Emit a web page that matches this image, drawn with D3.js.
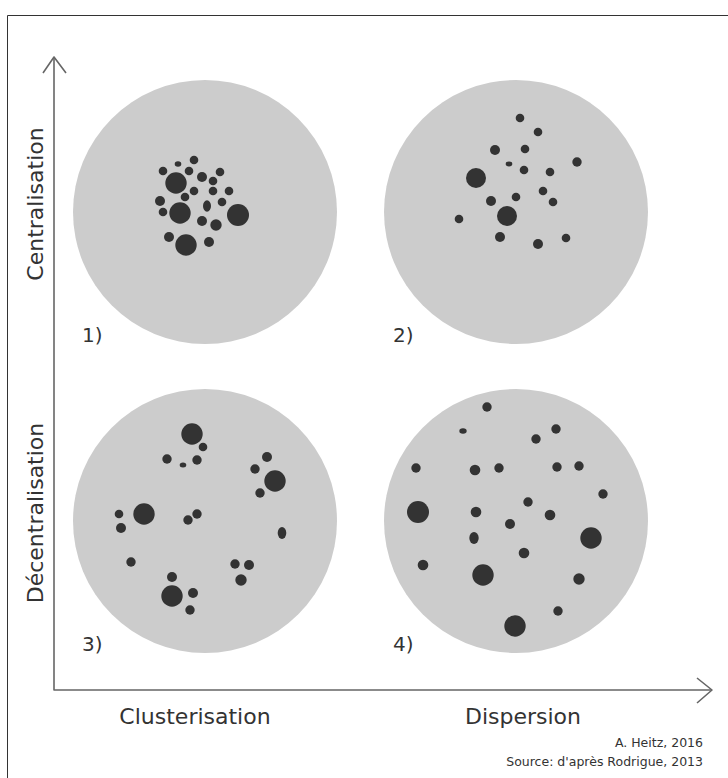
<!DOCTYPE html>
<html>
<head>
<meta charset="utf-8">
<script src="https://cdn.jsdelivr.net/npm/d3@7"></script>
<style>
  body { margin: 0; background: #fff; }
  text { font-family: "DejaVu Sans", sans-serif; fill: #333; }
</style>
</head>
<body>
<svg id="chart" width="728" height="778"></svg>
<script>
// panels: label, column, row
const panels = ["1)", "2)", "3)", "4)"];
const xLabels = ["Clusterisation", "Dispersion"];
const yLabels = ["Centralisation", "Décentralisation"];
const credits = ["A. Heitz, 2016", "Source: d'après Rodrigue, 2013"];

// dots per panel: [dx, dy, rx, ry] relative to the disk centre (disk radius = 132)
const dots1 = [
  [-11,-52,4.3,4.3], [-27,-48,3.3,2.7], [-42,-41,4.3,4.3], [-16,-41,4.3,4.3],
  [15,-40,4.3,4.3], [-29,-29,10.7,10.7], [-3,-35,5,5], [8,-31,4.3,4.3],
  [-11,-21,4.3,4.3], [8,-21,4.3,4.3], [24,-21,4.3,4.3], [-20,-15,4.3,4.3],
  [-45,-11,5,5], [17,-10,4.3,4.3], [2,-6,4,5.7], [-42,0,4.3,4.3],
  [-25,1,10.7,10.7], [33,3,11,11], [-3,9,5,5], [11,13,5.7,5.7],
  [-36,25,5,5], [-19,33,10.7,10.7], [4,30,5,5]
];
const dots2 = [
  [4,-94,4.3,4.3], [22,-80,4.3,4.3], [-21,-62,5,5], [9,-63,4.3,4.3],
  [-7,-48,3.3,2.4], [61,-50,4.7,4.7], [-40,-34,10,10], [8,-42,4.3,4.3],
  [34,-40,4.3,4.3], [27,-21,4.3,4.3], [-25,-11,5,5], [0,-15,4.3,4.3],
  [37,-10,4.3,4.3], [-9,4,10,10], [-57,7,4.3,4.3], [-16,25,5,5],
  [22,32,5,5], [50,26,4.3,4.3]
];
const dots3 = [
  [-13,-87,10.7,10.7], [-2,-74,4.3,4.3], [-38,-62,4.7,4.7], [-22,-56,3.3,2.5],
  [-8,-61,4.7,4.7], [62,-64,5,5], [50,-52,4.7,4.7], [70,-40,10.7,10.7],
  [55,-28,4.7,4.7], [-86,-7,4.3,4.3], [-61,-7,10.7,10.7], [-84,7,5,5],
  [-8,-7,4.7,4.7], [-17,-1,4.7,4.7], [77,12,4.3,6], [-74,41,4.7,4.7],
  [30,43,4.7,4.7], [44,44,5,5], [36,59,5.7,5.7], [-33,56,5,5],
  [-33,75,10.7,10.7], [-12,72,5,5], [-15,89,4.7,4.7]
];
const dots4 = [
  [-29,-114,4.7,4.7], [-53,-90,3.7,2.7], [40,-92,4.7,4.7], [20,-82,4.7,4.7],
  [-100,-53,4.7,4.7], [-41,-51,5.3,5.3], [-17,-53,4.7,4.7], [41,-54,4.7,4.7],
  [63,-55,4.7,4.7], [87,-27,4.7,4.7], [-98,-9,11,11], [-40,-9,5.3,5.3],
  [12,-19,4.7,4.7], [34,-6,5.3,5.3], [-6,3,5,5], [-42,17,4.7,6],
  [75,17,10.7,10.7], [8,32,5.3,5.3], [-93,44,5.3,5.3], [-33,54,10.7,10.7],
  [63,58,5.7,5.7], [42,90,4.7,4.7], [-1,105,10.7,10.7]
];
const allDots = [dots1, dots2, dots3, dots4];

const svg = d3.select("#chart");
const width = +svg.attr("width");
const height = +svg.attr("height");

const R = 132;
// columns / rows of the 2x2 grid
const colScale = d3.scalePoint().domain([0, 1]).range([205, 516]);
const rowScale = d3.scalePoint().domain([0, 1]).range([212, 521]);
const rScale = d3.scaleLinear().domain([0, R]).range([0, R]);

// frame (cut at right and bottom like the source)
svg.append("path")
  .attr("d", `M${width + 5},15.5 H7.5 V${height + 5}`)
  .attr("fill", "none")
  .attr("stroke", "#333")
  .attr("stroke-width", 1);

// axes with open arrowheads
const axisX = 54, axisY = 690;
const axes = svg.append("g")
  .attr("fill", "none")
  .attr("stroke", "#666")
  .attr("stroke-width", 1.6)
  .attr("stroke-linejoin", "round");
axes.append("path").attr("d", `M${axisX},57 V${axisY} H712`);
axes.append("path").attr("d", `M${axisX - 11},73 L${axisX},57 L${axisX + 12},73`);
axes.append("path").attr("d", `M697,${axisY - 12} L712,${axisY} L697,${axisY + 13}`);

panels.forEach((label, i) => {
  const col = i % 2, row = Math.floor(i / 2);
  const cx = colScale(col), cy = rowScale(row);
  const x = d3.scaleLinear().domain([-R, R]).range([cx - R, cx + R]);
  const y = d3.scaleLinear().domain([-R, R]).range([cy - R, cy + R]);

  const g = svg.append("g").attr("class", "panel");
  g.append("circle")
    .attr("cx", x(0))
    .attr("cy", y(0))
    .attr("r", rScale(R))
    .attr("fill", "#cccccc");

  g.selectAll("ellipse")
    .data(allDots[i])
    .enter()
    .append("ellipse")
    .attr("cx", d => x(d[0]))
    .attr("cy", d => y(d[1]))
    .attr("rx", d => rScale(d[2]))
    .attr("ry", d => rScale(d[3]))
    .attr("fill", "#333333");

  g.append("text")
    .attr("x", x(-123))
    .attr("y", y(130))
    .attr("font-size", 20)
    .text(label);
});

// axis category labels
svg.selectAll(".xlab")
  .data(xLabels)
  .enter()
  .append("text")
  .attr("class", "xlab")
  .attr("x", (d, i) => colScale(i) - (i === 0 ? 10 : -7))
  .attr("y", 724)
  .attr("text-anchor", "middle")
  .attr("font-size", 22)
  .text(d => d);

svg.selectAll(".ylab")
  .data(yLabels)
  .enter()
  .append("text")
  .attr("class", "ylab")
  .attr("transform", (d, i) => `translate(43,${rowScale(i) - 8}) rotate(-90)`)
  .attr("text-anchor", "middle")
  .attr("font-size", 22)
  .text(d => d);

svg.selectAll(".credit")
  .data(credits)
  .enter()
  .append("text")
  .attr("class", "credit")
  .attr("x", 703)
  .attr("y", (d, i) => 747 + i * 19)
  .attr("text-anchor", "end")
  .attr("font-size", 12.5)
  .text(d => d);
</script>
</body>
</html>
